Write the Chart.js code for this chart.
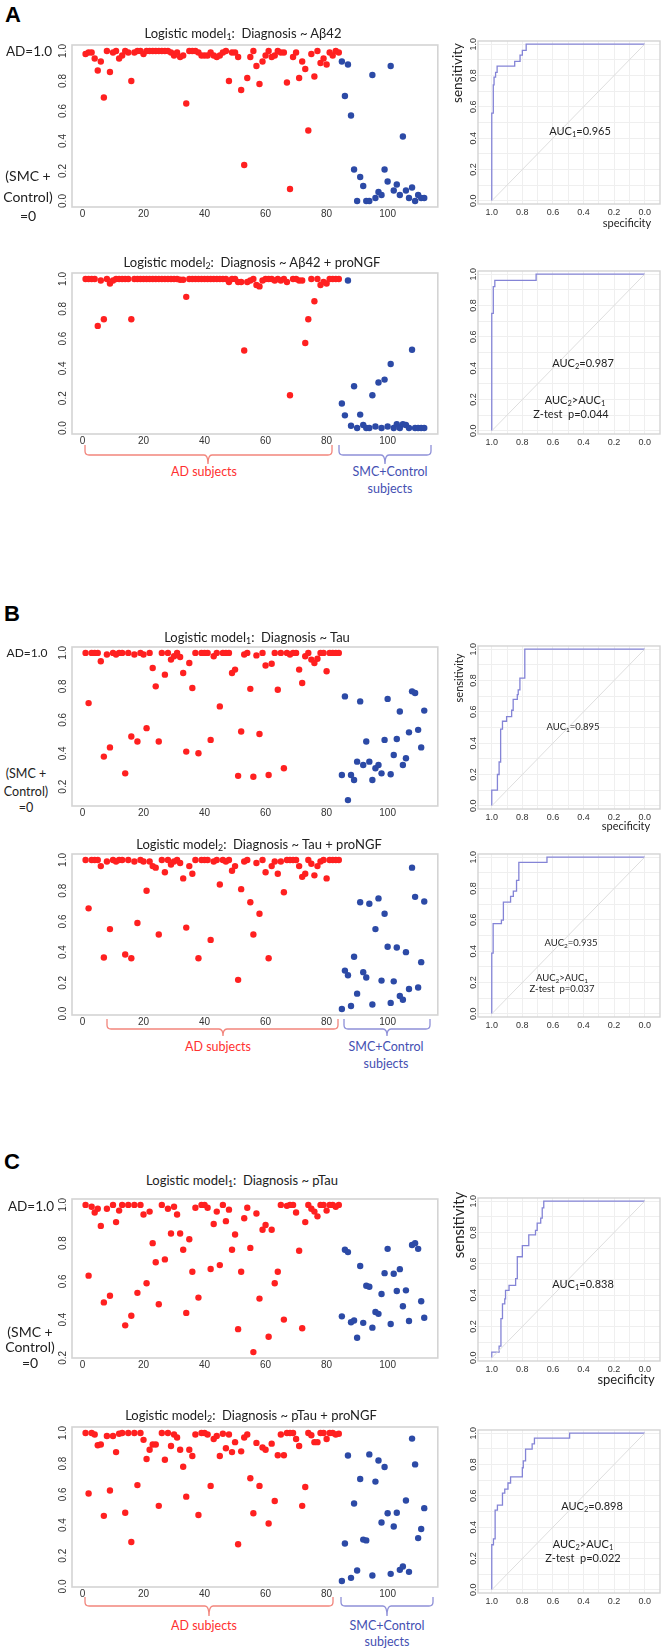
<!DOCTYPE html>
<html>
<head>
<meta charset="utf-8">
<script src="https://cdn.jsdelivr.net/npm/chart.js@4.4.1/dist/chart.umd.min.js"></script>
<style>
html, body { margin: 0; padding: 0; background: #fff; }
#fig { position: relative; width: 666px; height: 1652px; overflow: hidden; font-family: Lato, 'Noto Sans', sans-serif; }
#fig canvas { position: absolute; }
#fig svg { position: absolute; left: 0; top: 0; }
.t { position: absolute; white-space: nowrap; transform: translate(-50%, -50%); line-height: 1; color: #222; }
.t sub { font-size: 68%; vertical-align: -0.3em; line-height: 0; }
</style>
</head>
<body>
<div id="fig"></div>
<script>
// ---- scatter data: predicted probability per subject (AD first, then SMC+Control) ----
const A1_AD = [0.98,0.99,0.99,0.95,0.87,0.93,0.69,1.0,0.86,0.99,1.0,0.95,0.97,1.0,0.99,0.80,0.99,1.0,1.0,0.98,
  1.0,1.0,1.0,1.0,1.0,1.0,1.0,1.0,0.99,0.97,0.99,0.96,0.97,0.65,1.0,1.0,1.0,0.99,0.97,0.97,
  0.97,0.99,0.97,0.96,0.97,0.99,1.0,0.80,0.99,0.99,0.96,0.74,0.24,0.82,0.96,1.0,0.90,0.78,0.93,0.97,
  1.0,0.96,0.97,1.0,0.99,0.99,0.79,0.08,0.96,0.99,0.82,0.93,0.88,0.47,0.98,0.83,1.0,0.92,0.95,0.91,
  0.99,0.97,1.0,0.99];
const A1_CTRL = [0.93,0.70,0.91,0.57,0.21,0.0,0.16,0.10,0.0,0.0,0.84,0.02,0.06,0.04,0.21,0.13,0.90,0.07,0.11,0.04,
  0.43,0.07,0.02,0.09,0.0,0.04,0.02,0.02];

const A2_AD = [1.0,1.0,1.0,1.0,0.685,0.99,0.73,1.0,0.97,0.99,1.0,1.0,1.0,1.0,1.0,0.73,1.0,1.0,1.0,1.0,
  1.0,1.0,1.0,1.0,1.0,1.0,1.0,1.0,1.0,1.0,1.0,0.995,0.995,0.88,1.0,1.0,1.0,1.0,1.0,1.0,
  1.0,1.0,1.0,1.0,1.0,1.0,1.0,0.98,1.0,1.0,0.98,0.98,0.52,0.98,0.99,1.0,0.96,0.95,0.99,1.0,
  1.0,1.0,0.99,1.0,0.99,1.0,0.98,0.22,1.0,1.0,0.99,0.99,0.57,0.73,1.0,0.85,1.0,0.96,0.98,0.97,
  1.0,1.0,1.0,1.0];
const A2_CTRL = [0.165,0.085,0.99,0.015,0.28,0.0,0.09,0.02,0.0,0.0,0.22,0.01,0.305,0.0,0.325,0.01,0.43,0.0,0.025,0.0,
  0.025,0.02,0.0,0.525,0.0,0.0,0.0,0.0];

const B1_AD = [1.0,0.70,1.0,1.0,1.0,0.95,0.38,0.99,0.435,1.0,0.99,1.0,1.0,0.28,1.0,0.50,0.99,0.47,1.0,0.99,
  0.55,1.0,0.91,0.80,0.47,1.0,0.87,1.0,0.96,0.98,1.0,0.975,0.88,0.41,0.94,0.79,1.0,0.40,1.0,1.0,
  1.0,0.48,0.98,1.0,0.68,1.0,1.0,1.0,0.88,0.90,0.265,0.53,0.99,1.0,0.785,0.26,0.985,0.515,1.0,0.925,
  0.27,0.935,1.0,0.78,1.0,0.31,1.0,0.99,1.0,1.0,0.90,0.82,0.98,1.0,0.96,0.94,0.965,1.0,1.0,0.89,
  1.0,1.0,1.0,1.0];
const B1_CTRL = [0.27,0.74,0.12,0.27,0.24,0.35,0.71,0.33,0.47,0.35,0.24,0.31,0.33,0.28,0.48,0.725,0.275,0.39,0.485,0.65,
  0.33,0.37,0.525,0.77,0.76,0.54,0.435,0.655];

const B2_AD = [1.0,0.685,1.0,1.0,1.0,0.96,0.365,0.99,0.55,1.0,0.99,1.0,1.0,0.385,1.0,0.36,0.99,0.59,1.0,0.99,
  0.80,0.99,0.96,0.95,0.515,1.0,0.92,1.0,0.97,0.99,1.0,0.98,0.88,0.56,0.96,0.91,1.0,0.36,1.0,1.0,
  1.0,0.48,0.99,1.0,0.84,1.0,0.99,1.0,0.93,0.96,0.22,0.81,0.99,1.0,0.725,0.515,0.98,0.65,1.0,0.92,
  0.36,0.96,0.99,0.91,0.99,0.79,1.0,1.0,1.0,1.0,0.96,0.89,0.91,1.0,0.975,0.90,0.96,0.99,1.0,0.88,
  1.0,1.0,1.0,1.0];
const B2_CTRL = [0.03,0.28,0.25,0.05,0.37,0.13,0.725,0.27,0.235,0.715,0.06,0.55,0.75,0.215,0.65,0.435,0.07,0.21,0.43,0.115,
  0.09,0.40,0.16,0.95,0.76,0.17,0.335,0.73];

const C1_AD = [1.0,0.63,0.99,0.96,0.98,0.89,0.49,0.98,0.525,1.0,0.91,0.97,1.0,0.37,1.0,0.42,1.0,0.54,1.0,0.95,
  0.59,0.965,0.80,0.70,0.48,1.0,0.715,0.98,0.85,0.99,0.95,0.85,0.765,0.435,0.82,0.65,0.985,0.515,1.0,1.0,
  0.985,0.665,0.90,0.965,0.685,1.0,0.915,0.975,0.765,0.845,0.35,0.65,0.93,0.985,0.775,0.23,0.955,0.51,0.87,0.895,
  0.31,0.87,0.59,0.65,1.0,0.40,0.995,1.0,1.0,0.96,0.76,0.355,0.91,1.0,0.98,0.965,0.94,1.0,1.0,0.97,
  1.0,1.0,0.99,1.0];
const C1_CTRL = [0.417,0.765,0.753,0.386,0.395,0.305,0.68,0.383,0.577,0.572,0.358,0.44,0.43,0.534,0.643,0.77,0.377,0.64,0.55,0.664,
  0.47,0.553,0.393,0.79,0.80,0.77,0.496,0.41];

const C2_AD = [1.0,0.605,1.0,0.99,0.92,0.925,0.46,0.98,0.625,0.98,0.875,0.995,1.0,0.48,1.0,0.29,1.0,0.66,1.0,0.955,
  0.83,0.89,0.925,0.925,0.525,1.0,0.825,1.0,0.915,0.99,0.97,0.89,0.78,0.585,0.89,0.85,0.99,0.465,1.0,1.0,
  0.99,0.655,0.96,0.98,0.85,0.995,0.90,0.99,0.875,0.94,0.275,0.88,0.97,0.99,0.705,0.477,0.935,0.655,0.905,0.89,
  0.41,0.93,0.557,0.855,0.99,0.855,1.0,1.0,1.0,0.96,0.915,0.525,0.648,1.0,0.985,0.94,0.94,1.0,1.0,0.96,
  1.0,1.0,0.99,0.995];
const C2_CTRL = [0.035,0.28,0.853,0.056,0.54,0.104,0.70,0.305,0.30,0.86,0.071,0.683,0.82,0.417,0.778,0.477,0.082,0.39,0.48,0.108,
  0.13,0.56,0.095,0.963,0.795,0.315,0.374,0.51];

// ---- ROC curves: specificity / sensitivity ----
const A1_SPEC = [1,1,0.99,0.99,0.985,0.985,0.975,0.975,0.965,0.965,0.85,0.85,0.815,0.815,0.80,0.80,0.775,0.775,0];
const A1_SENS = [0,0.56,0.56,0.74,0.74,0.79,0.79,0.82,0.82,0.86,0.86,0.89,0.89,0.93,0.93,0.96,0.96,1,1];
const A2_SPEC = [1,1,0.99,0.99,0.98,0.98,0.71,0.71,0];
const A2_SENS = [0,0.75,0.75,0.92,0.92,0.96,0.96,1,1];
const B1_SPEC = [1,1,0.963,0.963,0.952,0.952,0.942,0.942,0.93,0.93,0.903,0.903,0.87,0.87,0.86,0.86,0.833,0.833,0.827,0.827,0.816,0.816,0.784,0.784,0];
const B1_SENS = [0,0.1,0.1,0.2,0.2,0.28,0.28,0.49,0.49,0.54,0.54,0.57,0.57,0.61,0.61,0.68,0.68,0.71,0.71,0.74,0.74,0.815,0.815,1,1];
const B2_SPEC = [1,1,0.991,0.991,0.937,0.937,0.924,0.924,0.877,0.877,0.859,0.859,0.838,0.838,0.823,0.823,0.639,0.639,0];
const B2_SENS = [0,0.387,0.387,0.576,0.576,0.598,0.598,0.713,0.713,0.75,0.75,0.783,0.783,0.852,0.852,0.967,0.967,1,1];
const C1_SPEC = [1,1,0.952,0.952,0.94,0.94,0.93,0.93,0.915,0.915,0.91,0.91,0.887,0.887,0.844,0.844,0.833,0.833,0.8,0.8,0.758,0.758,0.714,0.714,0.703,0.703,0.68,0.68,0.67,0.67,0.66,0.66,0];
const C1_SENS = [0,0.037,0.037,0.075,0.075,0.25,0.25,0.344,0.344,0.376,0.376,0.43,0.43,0.462,0.462,0.505,0.505,0.645,0.645,0.716,0.716,0.785,0.785,0.813,0.813,0.86,0.86,0.892,0.892,0.957,0.957,1,1];
const C2_SPEC = [1,1,0.989,0.989,0.978,0.978,0.963,0.963,0.93,0.93,0.915,0.915,0.894,0.894,0.877,0.877,0.80,0.80,0.794,0.794,0.779,0.779,0.736,0.736,0.721,0.721,0.491,0.491,0];
const C2_SENS = [0,0.288,0.288,0.325,0.325,0.509,0.509,0.541,0.541,0.617,0.617,0.643,0.643,0.682,0.682,0.721,0.721,0.779,0.779,0.823,0.823,0.898,0.898,0.931,0.931,0.968,0.968,1,1];
const DIAG_SPEC = [1, 0];
const DIAG_SENS = [0, 1];

// ---- tick labels ----
const SUBJECT_TICKS = [0, 20, 40, 60, 80, 100];
const PROB_TICKS = [0, 0.2, 0.4, 0.6, 0.8, 1.0];
const ROC_GRID = [0, 0.1, 0.2, 0.3, 0.4, 0.5, 0.6, 0.7, 0.8, 0.9, 1.0];

const RED = '#ff2020';
const BLUE = '#2c4aa6';
const ROC_LINE = '#8484d6';

Chart.defaults.font.family = "'Liberation Sans', Arial, sans-serif";
Chart.defaults.font.size = 10;
Chart.defaults.color = '#333';
Chart.defaults.animation = false;

const fig = document.getElementById('fig');

// frame around the plotting region, like R's box()
const boxPlugin = {
    id: 'box',
    afterDatasetsDraw(chart, args, opts) {
        const a = chart.chartArea, c = chart.ctx;
        c.save();
        c.strokeStyle = opts.color;
        c.lineWidth = opts.width;
        c.strokeRect(a.left, a.top, a.right - a.left, a.bottom - a.top);
        c.restore();
    },
};

function fixSize(w, h) {
    return function (s) {
        if (w != null) s.width = w;
        if (h != null) s.height = h;
        s.paddingLeft = s.paddingRight = s.paddingTop = s.paddingBottom = 0;
    };
}
function setTicks(values) {
    return function (s) {
        s.ticks = values.filter(v => v >= s.min - 1e-9 && v <= s.max + 1e-9).map(v => ({ value: v }));
    };
}
// R draws the y labels parallel to the axis
const verticalLabels = s => { s.labelRotation = 90; };

function makeCanvas(left, top, w, h) {
    const cv = document.createElement('canvas');
    cv.width = w; cv.height = h;
    cv.style.left = left + 'px'; cv.style.top = top + 'px';
    cv.style.width = w + 'px'; cv.style.height = h + 'px';
    fig.appendChild(cv);
    return cv;
}

function scatter(box, ad, ctrl) {
    const all = ad.concat(ctrl);
    const n = all.length;
    const lo = Math.min(...all), hi = Math.max(...all), pad = (hi - lo) * 0.04;
    const YW = 22, XH = 16, PT = 6, PR = 3;
    const cv = makeCanvas(box.left - YW, box.top - PT, box.w + YW + PR, box.h + PT + XH);
    const pt = { pointRadius: 3.2, pointHoverRadius: 3.2, borderWidth: 0 };
    new Chart(cv, {
        type: 'scatter',
        data: {
            datasets: [
                { data: ad.map((v, i) => ({ x: i + 1, y: v })), backgroundColor: RED, ...pt },
                { data: ctrl.map((v, i) => ({ x: ad.length + i + 1, y: v })), backgroundColor: BLUE, ...pt },
            ],
        },
        options: {
            responsive: false,
            animation: false,
            layout: { padding: { top: PT, right: PR, left: 0, bottom: 0 } },
            plugins: { legend: { display: false }, tooltip: { enabled: false }, box: { color: '#d4d4d4', width: 1.6 } },
            scales: {
                x: {
                    type: 'linear', min: 1 - 0.04 * (n - 1), max: n + 0.04 * (n - 1),
                    grid: { display: false, drawTicks: false }, border: { display: false },
                    ticks: { padding: 1, maxRotation: 0, callback: v => String(v) },
                    afterBuildTicks: setTicks(SUBJECT_TICKS), afterFit: fixSize(null, XH),
                },
                y: {
                    type: 'linear', min: lo - pad, max: hi + pad,
                    grid: { display: false, drawTicks: false }, border: { display: false },
                    ticks: { minRotation: 90, maxRotation: 90, crossAlign: 'center', padding: 2, callback: v => v.toFixed(1) },
                    afterBuildTicks: setTicks(PROB_TICKS), afterCalculateLabelRotation: verticalLabels,
                    afterFit: fixSize(YW, null),
                },
            },
        },
        plugins: [boxPlugin],
    });
}

function roc(left, top, spec, sens) {
    const W = 182, H = 163, YW = 14, XH = 14, PT = 8, PR = 3;
    const cv = makeCanvas(left - YW, top - PT, W + YW + PR, H + PT + XH);
    const lbl = v => (Math.round(v * 10) % 2 === 0 ? v.toFixed(1) : '');
    const gridOpts = { color: '#efefef', lineWidth: 1, drawTicks: false };
    new Chart(cv, {
        type: 'scatter',
        data: {
            datasets: [
                { data: DIAG_SPEC.map((s, i) => ({ x: s, y: DIAG_SENS[i] })), showLine: true, borderColor: '#dedede', borderWidth: 1, pointRadius: 0 },
                { data: spec.map((s, i) => ({ x: s, y: sens[i] })), showLine: true, borderColor: ROC_LINE, borderWidth: 1.3, pointRadius: 0, tension: 0 },
            ],
        },
        options: {
            responsive: false,
            animation: false,
            layout: { padding: { top: PT, right: PR, left: 0, bottom: 0 } },
            plugins: { legend: { display: false }, tooltip: { enabled: false }, box: { color: '#d4d4d4', width: 1.4 } },
            scales: {
                x: {
                    type: 'linear', reverse: true, min: -0.1, max: 1.09,
                    grid: gridOpts, border: { display: false },
                    ticks: { padding: 3, maxRotation: 0, autoSkip: false, font: { size: 9 }, callback: lbl },
                    afterBuildTicks: setTicks(ROC_GRID), afterFit: fixSize(null, XH),
                },
                y: {
                    type: 'linear', min: -0.02, max: 1.02,
                    grid: gridOpts, border: { display: false },
                    ticks: { minRotation: 90, maxRotation: 90, crossAlign: 'center', padding: -2, autoSkip: false, font: { size: 9 }, callback: lbl },
                    afterBuildTicks: setTicks(ROC_GRID), afterCalculateLabelRotation: verticalLabels,
                    afterFit: fixSize(YW, null),
                },
            },
        },
        plugins: [boxPlugin],
    });
}

scatter({ left: 72, top: 45, w: 366, h: 162 }, A1_AD, A1_CTRL);
scatter({ left: 72, top: 273, w: 366, h: 161 }, A2_AD, A2_CTRL);
scatter({ left: 72, top: 647, w: 366, h: 159 }, B1_AD, B1_CTRL);
scatter({ left: 72, top: 854, w: 366, h: 161 }, B2_AD, B2_CTRL);
scatter({ left: 72, top: 1199, w: 366, h: 159 }, C1_AD, C1_CTRL);
scatter({ left: 72, top: 1427, w: 366, h: 160 }, C2_AD, C2_CTRL);

roc(478, 41, A1_SPEC, A1_SENS);
roc(478, 271, A2_SPEC, A2_SENS);
roc(478, 646, B1_SPEC, B1_SENS);
roc(478, 854, B2_SPEC, B2_SENS);
roc(478, 1198, C1_SPEC, C1_SENS);
roc(478, 1430, C2_SPEC, C2_SENS);

// ---- text annotations ----
const RED_TXT = '#ff3030', BLUE_TXT = '#4450b2';
const TEXTS = [
    ['A', 13, 15, 22, '#000', 700, "'Liberation Sans', Arial"],
    ['B', 12, 614, 22, '#000', 700, "'Liberation Sans', Arial"],
    ['C', 12, 1162, 22, '#000', 700, "'Liberation Sans', Arial"],
    ['Logistic model<sub>1</sub>:&nbsp; Diagnosis ~ A&beta;42', 243, 33, 13],
    ['Logistic model<sub>2</sub>:&nbsp; Diagnosis ~ A&beta;42 + proNGF', 252, 262, 13],
    ['Logistic model<sub>1</sub>:&nbsp; Diagnosis ~ Tau', 257, 637, 13],
    ['Logistic model<sub>2</sub>:&nbsp; Diagnosis ~ Tau + proNGF', 259, 844, 13],
    ['Logistic model<sub>1</sub>:&nbsp; Diagnosis ~ pTau', 242, 1180, 13],
    ['Logistic model<sub>2</sub>:&nbsp; Diagnosis ~ pTau + proNGF', 251, 1415, 13],
    ['AD=1.0', 29, 52, 13.5], ['(SMC +', 28, 176, 14], ['Control)', 28, 197, 14], ['=0', 28, 216, 14],
    ['AD=1.0', 27, 653, 12], ['(SMC +', 26, 774, 12.5], ['Control)', 26, 792, 12.5], ['=0', 26, 808, 12.5],
    ['AD=1.0', 31, 1207, 13.5], ['(SMC +', 30, 1332, 14], ['Control)', 30, 1347, 14], ['=0', 30, 1363, 14],
    ['AD subjects', 204, 472, 12.5, RED_TXT], ['SMC+Control', 390, 472, 12.5, BLUE_TXT], ['subjects', 390, 489, 12.5, BLUE_TXT],
    ['AD subjects', 218, 1047, 12.5, RED_TXT], ['SMC+Control', 386, 1047, 12.5, BLUE_TXT], ['subjects', 386, 1064, 12.5, BLUE_TXT],
    ['AD subjects', 204, 1626, 12.5, RED_TXT], ['SMC+Control', 387, 1626, 12.5, BLUE_TXT], ['subjects', 387, 1642, 12.5, BLUE_TXT],
    ['specificity', 627, 222, 11], ['specificity', 626, 825, 11], ['specificity', 626, 1379, 13],
    ['AUC<sub>1</sub>=0.965', 580, 130, 11], ['AUC<sub>2</sub>=0.987', 583, 362, 11],
    ['AUC<sub>2</sub>&gt;AUC<sub>1</sub>', 575, 399, 11], ['Z-test&nbsp; p=0.044', 571, 413, 11],
    ['AUC<sub>1</sub>=0.895', 573, 727, 9.5], ['AUC<sub>2</sub>=0.935', 571, 943, 9.5],
    ['AUC<sub>2</sub>&gt;AUC<sub>1</sub>', 562, 978, 9.5], ['Z-test&nbsp; p=0.037', 562, 989, 9.5],
    ['AUC<sub>1</sub>=0.838', 583, 1283, 11], ['AUC<sub>2</sub>=0.898', 592, 1505, 11],
    ['AUC<sub>2</sub>&gt;AUC<sub>1</sub>', 583, 1543, 11], ['Z-test&nbsp; p=0.022', 583, 1557, 11],
];
const ROTATED = [['sensitivity', 458, 73, 13.5], ['sensitivity', 458, 678, 11], ['sensitivity', 458, 1225, 15]];

function addText(html, x, y, size, color, weight, family, rot) {
    const d = document.createElement('div');
    d.className = 't';
    d.innerHTML = html;
    d.style.left = x + 'px';
    d.style.top = y + 'px';
    d.style.fontSize = size + 'px';
    if (color) d.style.color = color;
    if (weight) d.style.fontWeight = weight;
    if (family) d.style.fontFamily = family;
    if (rot) d.style.transform = 'translate(-50%, -50%) rotate(' + rot + 'deg)';
    fig.appendChild(d);
}
TEXTS.forEach(t => addText(t[0], t[1], t[2], t[3], t[4], t[5], t[6]));
ROTATED.forEach(t => addText(t[0], t[1], t[2], t[3], '#222', null, null, -90));

// ---- curly brackets under the subject groups ----
const BRACKETS = [
    [85, 332, 208, 445, 455, 464, '#f2857c'], [339, 431, 385, 445, 455, 464, '#8e90d8'],
    [107, 338, 223, 1019, 1029, 1036, '#f2857c'], [344, 430, 387, 1019, 1029, 1036, '#8e90d8'],
    [85, 333, 209, 1597, 1606, 1616, '#f2857c'], [341, 433, 387, 1597, 1606, 1616, '#8e90d8'],
];
const NS = 'http://www.w3.org/2000/svg';
const svg = document.createElementNS(NS, 'svg');
svg.setAttribute('width', 666);
svg.setAttribute('height', 1652);
BRACKETS.forEach(([x1, x2, xm, y0, y1, y2, col]) => {
    const r = 4;
    const d = `M${x1},${y0} L${x1},${y1 - r} Q${x1},${y1} ${x1 + r},${y1} L${xm - r},${y1} Q${xm},${y1} ${xm},${y2}` +
        ` Q${xm},${y1} ${xm + r},${y1} L${x2 - r},${y1} Q${x2},${y1} ${x2},${y1 - r} L${x2},${y0}`;
    const p = document.createElementNS(NS, 'path');
    p.setAttribute('d', d);
    p.setAttribute('fill', 'none');
    p.setAttribute('stroke', col);
    p.setAttribute('stroke-width', '1.3');
    svg.appendChild(p);
});
fig.appendChild(svg);
</script>
</body>
</html>
